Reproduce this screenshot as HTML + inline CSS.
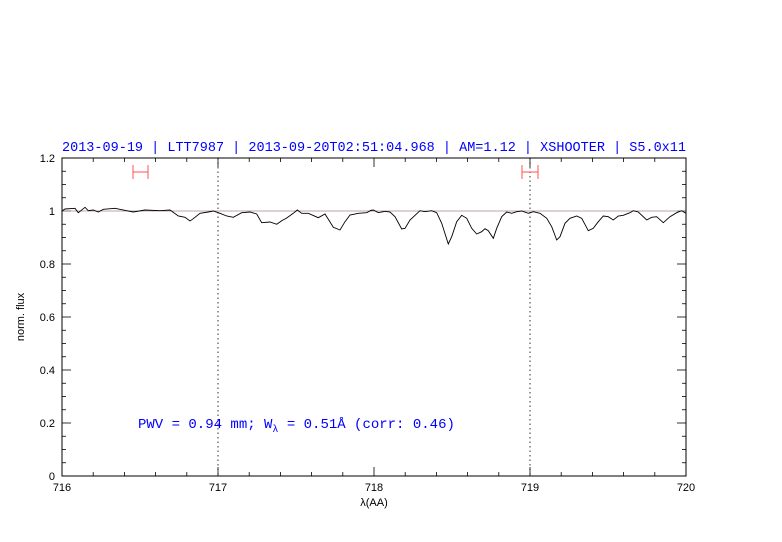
<!DOCTYPE html>
<html><head><meta charset="utf-8"><style>
body{margin:0;background:#fff;}
svg{display:block;font-family:"Liberation Mono","DejaVu Sans Mono",monospace;}
.t{font-family:"Liberation Sans","DejaVu Sans",sans-serif;}
</style></head><body>
<svg id="s" width="782" height="542" xmlns="http://www.w3.org/2000/svg">
<rect width="782" height="542" fill="#fff"/>
<text x="62" y="151" font-size="14" fill="#0000ff" textLength="624" lengthAdjust="spacingAndGlyphs">2013-09-19 | LTT7987 | 2013-09-20T02:51:04.968 | AM=1.12 | XSHOOTER | S5.0x11</text>
<g id="ax"></g>
<line x1="62" y1="211" x2="686" y2="211" stroke="#a08888" stroke-width="0.8"/>
<line x1="218" y1="158" x2="218" y2="476" stroke="#000" stroke-dasharray="1.5,3" stroke-width="0.8"/>
<line x1="530" y1="158" x2="530" y2="476" stroke="#000" stroke-dasharray="1.5,3" stroke-width="0.8"/>
<polyline id="sp" fill="none" stroke="#000" stroke-width="0.9"/>
<g stroke="#ff5050" stroke-width="1">
<line x1="133" y1="172" x2="148" y2="172"/><line x1="133" y1="165" x2="133" y2="179"/><line x1="148" y1="165" x2="148" y2="179"/>
<line x1="522" y1="172" x2="538" y2="172"/><line x1="522" y1="165" x2="522" y2="179"/><line x1="538" y1="165" x2="538" y2="179"/>
</g>
<rect x="62" y="158" width="624" height="318" fill="none" stroke="#000" stroke-width="1"/>
<text x="138" y="428" font-size="14" fill="#0000ff">PWV = 0.94 mm; W<tspan font-size="10" dy="4">λ</tspan><tspan dy="-4"> = 0.51Å (corr: 0.46)</tspan></text>
<text class="t" x="374" y="506" font-size="11" text-anchor="middle">λ(AA)</text>
<text class="t" transform="translate(24,317) rotate(-90)" font-size="11" text-anchor="middle">norm. flux</text>
</svg>
<script>
var ax=document.getElementById("ax"),h="";
function L(a,b,c,d){h+='<line x1="'+a+'" y1="'+b+'" x2="'+c+'" y2="'+d+'" stroke="#000" stroke-width="0.8"/>';}
for(var i=0;i<=20;i++){var x=62+i*31.2,m=i%5==0?9:4;L(x,476,x,476-m);L(x,158,x,158+m);
 if(i%5==0)h+='<text class="t" x="'+x+'" y="491" font-size="11" text-anchor="middle">'+(716+i/5)+'</text>';}
for(var i=0;i<=24;i++){var y=476-i*13.25,m=i%4==0?9:4;L(62,y,62+m,y);L(686,y,686-m,y);
 if(i%4==0){var v=i/20;h+='<text class="t" x="55" y="'+(y+4)+'" font-size="11" text-anchor="end">'+(v==1?"1":v==0?"0":v.toFixed(1))+'</text>';}}
ax.innerHTML=h;
var a=[15,57,45,55,55,68,75,52,85,62,100,60,115,66,130,58,165,55,200,62,220,66,255,60,300,62,330,60,355,78,375,82,390,93,400,86,420,70,445,66,460,63,480,70,500,78,520,82,545,68,570,66,590,72,605,98,630,96,650,103,665,92,680,84,700,70,712,60,725,70,745,70,775,83,795,72,805,88,820,112,840,120,855,95,870,75,895,70,920,68,935,60];
var b=[0,62,10,60,25,68,45,64,60,66,75,80,95,117,105,115,120,90,150,62,165,65,185,62,200,68,215,100,235,162,245,140,260,95,275,76,290,85,305,115,320,132,335,125,345,116,355,122,370,145,380,115,395,80,410,66,425,70,440,65,455,63,475,70,490,65,510,70,530,85,545,110,560,150,570,140,585,100,600,85,620,78,635,85,655,122,670,115,685,95,700,78,715,80,730,90,745,78,760,76,780,68,790,62,805,66,830,90,845,82,860,80,880,98,900,80,920,68,935,62,948,70];
var p=["62,211"];
for(var i=0;i<a.length;i+=2)p.push((60+a[i]/3).toFixed(1)+","+(190+a[i+1]/3).toFixed(1));
for(var i=0;i<b.length;i+=2)p.push((370+b[i]/3).toFixed(1)+","+(190+b[i+1]/3).toFixed(1));
p.push("686,212");
document.getElementById("sp").setAttribute("points",p.join(" "));
</script>
</body></html>
